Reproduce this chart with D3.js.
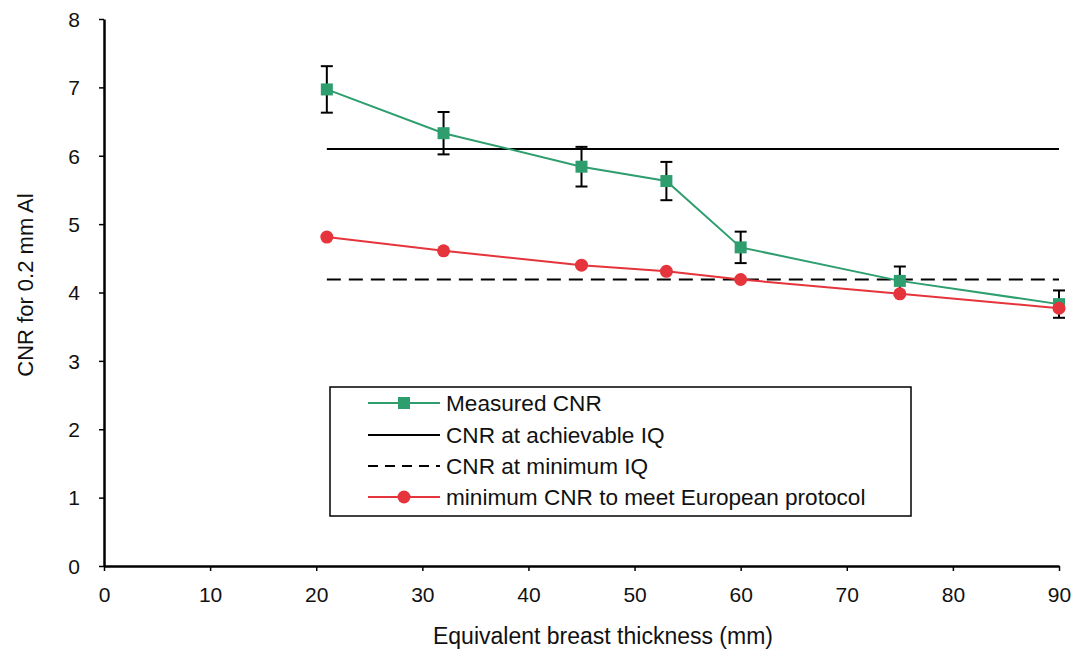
<!DOCTYPE html>
<html><head><meta charset="utf-8">
<script src="https://cdn.jsdelivr.net/npm/d3@7"></script>
<style>body{margin:0;background:#fff}svg{display:block;font-family:"Liberation Sans",Arial,sans-serif}</style>
</head><body><svg id="c" width="1078" height="651"></svg>
<script>
const thickness = [21, 32, 45, 53, 60, 75, 90];
const measuredCNR = [6.97, 6.33, 5.84, 5.63, 4.66, 4.17, 3.83];
const measuredErr = [0.34, 0.31, 0.29, 0.28, 0.23, 0.21, 0.20];
const europeanCNR = [4.81, 4.61, 4.40, 4.31, 4.19, 3.98, 3.77];
const achievableIQ = 6.10;
const minimumIQ = 4.19;
const xTicks = [0,10,20,30,40,50,60,70,80,90];
const yTicks = [0,1,2,3,4,5,6,7,8];
const legendLabels = ["Measured CNR","CNR at achievable IQ","CNR at minimum IQ","minimum CNR to meet European protocol"];

const green = "#2e9e6e", red = "#e5343b";
const svg = d3.select("#c");
const x = d3.scaleLinear().domain([0,90]).range([104,1059]);
const y = d3.scaleLinear().domain([0,8]).range([566,19]);

const xAxis = svg.append("g").attr("transform","translate(0,566)")
  .call(d3.axisBottom(x).tickValues(xTicks).tickSize(5).tickSizeOuter(0));
const yAxis = svg.append("g").attr("transform","translate(104,0)")
  .call(d3.axisLeft(y).tickValues(yTicks).tickSize(5).tickSizeOuter(0));
[xAxis,yAxis].forEach(a=>{
  a.select(".domain").attr("stroke","#000").attr("stroke-width",2.5);
  a.selectAll(".tick line").attr("stroke","#000").attr("stroke-width",1.5);
  a.selectAll("text").attr("font-size",21).attr("fill","#111").style("font-family","Liberation Sans, Arial, sans-serif");
});
xAxis.selectAll("text").attr("y",36).attr("dy",0);
yAxis.selectAll("text").attr("x",-24).attr("dy","0.35em");

svg.append("text").attr("x",603).attr("y",644).attr("text-anchor","middle").attr("font-size",23).attr("fill","#111").text("Equivalent breast thickness (mm)");
svg.append("text").attr("transform","translate(33,285) rotate(-90)").attr("text-anchor","middle").attr("font-size",22).attr("fill","#111").text("CNR for 0.2 mm Al");

// reference lines
svg.append("line").attr("x1",x(thickness[0])).attr("x2",x(thickness[thickness.length-1]))
  .attr("y1",y(achievableIQ)).attr("y2",y(achievableIQ)).attr("stroke","#000").attr("stroke-width",2);
svg.append("line").attr("x1",x(thickness[0])).attr("x2",x(thickness[thickness.length-1]))
  .attr("y1",y(minimumIQ)).attr("y2",y(minimumIQ)).attr("stroke","#000").attr("stroke-width",2).attr("stroke-dasharray","14,8");

const line = d3.line().x(d=>x(d[0])).y(d=>y(d[1]));
const mData = thickness.map((t,i)=>[t,measuredCNR[i],measuredErr[i]]);
const eData = thickness.map((t,i)=>[t,europeanCNR[i]]);

svg.append("path").datum(eData).attr("d",line).attr("fill","none").attr("stroke",red).attr("stroke-width",2);
svg.append("path").datum(mData).attr("d",line).attr("fill","none").attr("stroke",green).attr("stroke-width",2);

// error bars
const eb = svg.append("g").attr("stroke","#000").attr("stroke-width",2);
mData.forEach(d=>{
  const cx=x(d[0]);
  eb.append("line").attr("x1",cx).attr("x2",cx).attr("y1",y(d[1]-d[2])).attr("y2",y(d[1]+d[2]));
  eb.append("line").attr("x1",cx-6).attr("x2",cx+6).attr("y1",y(d[1]-d[2])).attr("y2",y(d[1]-d[2]));
  eb.append("line").attr("x1",cx-6).attr("x2",cx+6).attr("y1",y(d[1]+d[2])).attr("y2",y(d[1]+d[2]));
});

svg.append("g").selectAll("rect").data(mData).join("rect")
  .attr("x",d=>x(d[0])-6).attr("y",d=>y(d[1])-6).attr("width",12).attr("height",12).attr("fill",green);
svg.append("g").selectAll("circle").data(eData).join("circle")
  .attr("cx",d=>x(d[0])).attr("cy",d=>y(d[1])).attr("r",6.5).attr("fill",red);

// legend
const lg = svg.append("g");
lg.append("rect").attr("x",330).attr("y",387).attr("width",581).attr("height",129).attr("fill","#fff").attr("stroke","#000").attr("stroke-width",1.5);
const rows=[403,435,466,497];
legendLabels.forEach((lab,i)=>{
  const yy=rows[i];
  const l=lg.append("line").attr("x1",368).attr("x2",440).attr("y1",yy).attr("y2",yy).attr("stroke-width",2);
  if(i===0){l.attr("stroke",green);lg.append("rect").attr("x",398).attr("y",yy-6).attr("width",12).attr("height",12).attr("fill",green);}
  if(i===1){l.attr("stroke","#000");}
  if(i===2){l.attr("stroke","#000").attr("stroke-dasharray","10,7");}
  if(i===3){l.attr("stroke",red);lg.append("circle").attr("cx",404).attr("cy",yy).attr("r",6.5).attr("fill",red);}
  lg.append("text").attr("x",446).attr("y",yy).attr("dy","0.36em").attr("font-size",22.6).attr("fill","#111").text(lab);
});
</script></body></html>
